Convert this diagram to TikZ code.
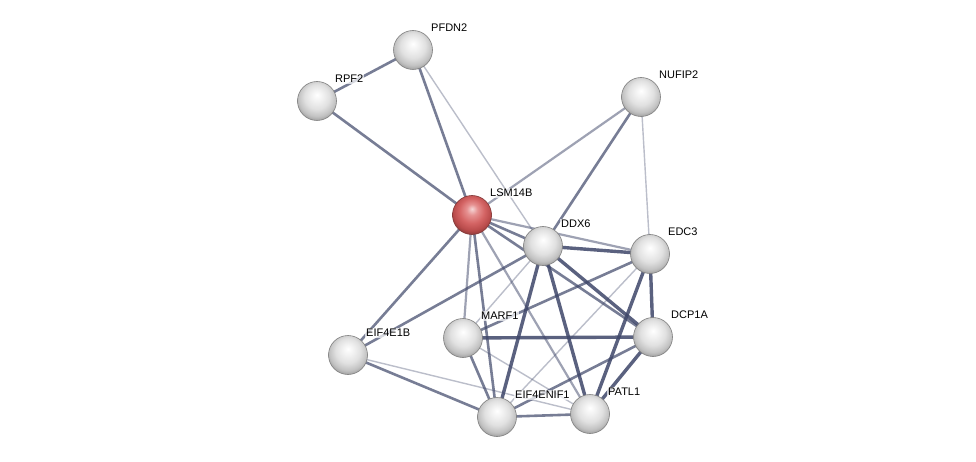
\documentclass[tikz,border=0pt]{standalone}
\usepackage{fontspec}
\setmainfont{Liberation Sans}
\definecolor{rA}{RGB}{245,215,215}
\definecolor{rB}{RGB}{230,145,145}
\definecolor{rC}{RGB}{212,100,100}
\definecolor{rD}{RGB}{185,75,75}
\definecolor{rE}{RGB}{130,55,55}
\pgfdeclareradialshading{greysphere}{\pgfpoint{0bp}{8bp}}{color(0bp)=(white); color(7bp)=(black!5); color(16bp)=(black!12); color(24bp)=(black!24); color(30bp)=(black!42); color(50bp)=(black!50)}
\pgfdeclareradialshading{redsphere}{\pgfpoint{0bp}{8bp}}{color(0bp)=(rA); color(7bp)=(rB); color(16bp)=(rC); color(24bp)=(rD); color(30bp)=(rE); color(50bp)=(rE)}
\begin{document}
\begin{tikzpicture}[x=1pt,y=-1pt,
  prot/.style={circle,minimum size=39pt,inner sep=0pt,draw=black!50,line width=0.6pt,shading=greysphere},
  protred/.style={prot,shading=redsphere,draw=rE},
  lbl/.style={anchor=west,inner sep=1pt,font=\fontsize{11pt}{13pt}\selectfont,fill=white,fill opacity=0.7,text opacity=1},
  ethick/.style={draw=edgecol,line width=3.4pt,draw opacity=0.85},
  emed/.style={draw=edgecol,line width=2.6pt,draw opacity=0.7},
  elight/.style={draw=edgecol,line width=2.2pt,draw opacity=0.5},
  ethin/.style={draw=edgecol,line width=1.4pt,draw opacity=0.35}]
\definecolor{edgecol}{RGB}{62,70,105}
\useasboundingbox (0,0) rectangle (976,462);
\fill[white] (0,0) rectangle (976,462);
% node coordinates
\coordinate (pfdn2) at (413,50);
\coordinate (rpf2) at (317,101);
\coordinate (nufip2) at (641,97);
\coordinate (lsm14b) at (472,215);
\coordinate (ddx6) at (543,246);
\coordinate (edc3) at (650,254);
\coordinate (dcp1a) at (653,337);
\coordinate (marf1) at (463,338);
\coordinate (eif4e1b) at (348,355);
\coordinate (eif4enif1) at (497,417);
\coordinate (patl1) at (590,414);
% edges
\draw[emed] (rpf2) -- (pfdn2);
\draw[emed] (rpf2) -- (lsm14b);
\draw[emed] (pfdn2) -- (lsm14b);
\draw[ethin] (pfdn2) -- (ddx6);
\draw[elight] (nufip2) -- (lsm14b);
\draw[emed] (nufip2) -- (ddx6);
\draw[ethin] (nufip2) -- (edc3);
\draw[emed] (lsm14b) -- (ddx6);
\draw[elight] (lsm14b) -- (edc3);
\draw[emed] (lsm14b) -- (dcp1a);
\draw[emed] (lsm14b) -- (eif4e1b);
\draw[elight] (lsm14b) -- (marf1);
\draw[emed] (lsm14b) -- (eif4enif1);
\draw[elight] (lsm14b) -- (patl1);
\draw[ethick] (ddx6) -- (edc3);
\draw[ethick] (ddx6) -- (dcp1a);
\draw[ethick] (ddx6) -- (patl1);
\draw[ethick] (ddx6) -- (eif4enif1);
\draw[ethin] (ddx6) -- (marf1);
\draw[emed] (ddx6) -- (eif4e1b);
\draw[ethick] (edc3) -- (dcp1a);
\draw[ethick] (edc3) -- (patl1);
\draw[ethin] (edc3) -- (eif4enif1);
\draw[emed] (edc3) -- (marf1);
\draw[ethick] (dcp1a) -- (marf1);
\draw[ethick] (dcp1a) -- (patl1);
\draw[emed] (dcp1a) -- (eif4enif1);
\draw[emed] (eif4enif1) -- (eif4e1b);
\draw[emed] (eif4enif1) -- (marf1);
\draw[emed] (eif4enif1) -- (patl1);
\draw[ethin] (patl1) -- (eif4e1b);
\draw[ethin] (patl1) -- (marf1);
% nodes
\node[prot] (n-pfdn2) at (pfdn2) {};
\node[prot] (n-rpf2) at (rpf2) {};
\node[prot] (n-nufip2) at (nufip2) {};
\node[protred] (n-lsm14b) at (lsm14b) {};
\node[prot] (n-ddx6) at (ddx6) {};
\node[prot] (n-edc3) at (edc3) {};
\node[prot] (n-dcp1a) at (dcp1a) {};
\node[prot] (n-marf1) at (marf1) {};
\node[prot] (n-eif4e1b) at (eif4e1b) {};
\node[prot] (n-eif4enif1) at (eif4enif1) {};
\node[prot] (n-patl1) at (patl1) {};
% labels
\node[lbl] (l-pfdn2) at ([xshift=17pt,yshift=22pt]pfdn2) {PFDN2};
\node[lbl] (l-rpf2) at ([xshift=17pt,yshift=22pt]rpf2) {RPF2};
\node[lbl] (l-nufip2) at ([xshift=17pt,yshift=22pt]nufip2) {NUFIP2};
\node[lbl] (l-lsm14b) at ([xshift=17pt,yshift=22pt]lsm14b) {LSM14B};
\node[lbl] (l-ddx6) at ([xshift=17pt,yshift=22pt]ddx6) {DDX6};
\node[lbl] (l-edc3) at ([xshift=17pt,yshift=22pt]edc3) {EDC3};
\node[lbl] (l-dcp1a) at ([xshift=17pt,yshift=22pt]dcp1a) {DCP1A};
\node[lbl] (l-marf1) at ([xshift=17pt,yshift=22pt]marf1) {MARF1};
\node[lbl] (l-eif4e1b) at ([xshift=17pt,yshift=22pt]eif4e1b) {EIF4E1B};
\node[lbl] (l-eif4enif1) at ([xshift=17pt,yshift=22pt]eif4enif1) {EIF4ENIF1};
\node[lbl] (l-patl1) at ([xshift=17pt,yshift=22pt]patl1) {PATL1};
\end{tikzpicture}
\end{document}
